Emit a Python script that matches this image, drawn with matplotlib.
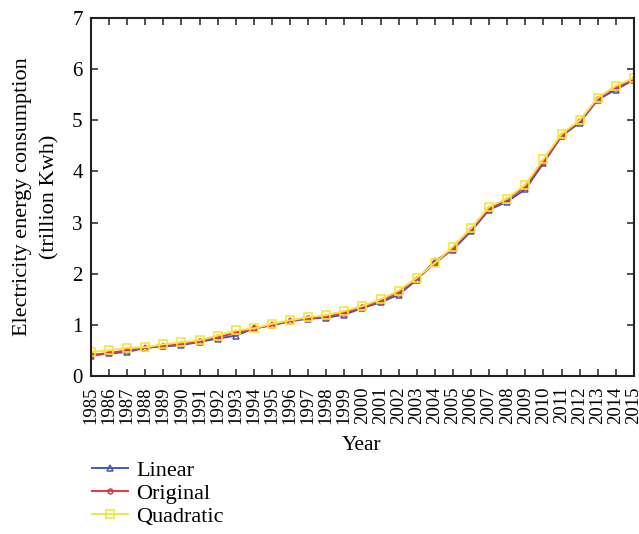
import matplotlib
matplotlib.use("Agg")
import matplotlib.pyplot as plt

years = list(range(1985, 2016))
original = [0.41, 0.45, 0.50, 0.55, 0.59, 0.62, 0.68, 0.76, 0.84, 0.93, 1.00, 1.08, 1.13, 1.16, 1.23,
            1.35, 1.46, 1.63, 1.90, 2.20, 2.49, 2.86, 3.27, 3.45, 3.70, 4.19, 4.70, 4.98, 5.42, 5.64, 5.80]
linear = [0.40, 0.44, 0.47, 0.55, 0.58, 0.60, 0.67, 0.73, 0.79, 0.93, 0.99, 1.07, 1.12, 1.14, 1.20,
          1.33, 1.44, 1.59, 1.88, 2.25, 2.47, 2.83, 3.25, 3.41, 3.65, 4.16, 4.69, 4.95, 5.40, 5.60, 5.79]
quadratic = [0.47, 0.50, 0.55, 0.56, 0.62, 0.66, 0.70, 0.79, 0.89, 0.93, 1.02, 1.09, 1.15, 1.19, 1.27,
             1.37, 1.50, 1.67, 1.92, 2.21, 2.53, 2.89, 3.31, 3.47, 3.74, 4.24, 4.73, 5.00, 5.44, 5.67, 5.83]

plt.rcParams['font.family'] = ['Liberation Serif', 'DejaVu Serif']

fig = plt.figure(figsize=(6.39, 5.34), dpi=100)
ax = fig.add_axes([0.1424, 0.2959, 0.8496, 0.6704])

ax.plot(years, linear, color='#4257b8', lw=1.4, marker='^', ms=4.5, mfc='none', mew=1.1, label='Linear')
ax.plot(years, original, color='#e8363c', lw=1.4, marker='o', ms=3.5, mfc='none', mew=1.1, label='Original')
ax.plot(years, quadratic, color='#f3e53e', lw=1.4, marker='s', ms=6, mfc='none', mew=1.2, label='Quadratic')

ax.set_xlim(1985, 2015)
ax.set_ylim(0, 7)
ax.set_xticks(years)
ax.set_xticklabels([str(y) for y in years], rotation=90, fontsize=13.5)
ax.set_yticks(range(0, 8))
ax.tick_params(axis='y', labelsize=15, pad=6)
ax.tick_params(axis='x', pad=7.5)
ax.tick_params(direction='in', top=True, right=True, length=5, width=1.2, color='#333333')
for s in ax.spines.values():
    s.set_linewidth(1.5)
    s.set_color('#222222')

fig.text(362 / 639, 1 - 445 / 534, 'Year', fontsize=15.5, ha='center', va='center')
fig.text(36 / 639, 1 - 197 / 534, 'Electricity energy consumption\n(trillion Kwh)', fontsize=16,
         rotation=90, ha='center', va='center', multialignment='center', linespacing=1.6)

leg = fig.legend(loc='upper left', bbox_to_anchor=(92 / 639, 1 - 460 / 534), frameon=False, fontsize=16,
                 handlelength=1.6, handletextpad=0.4, labelspacing=0.12, borderpad=0, borderaxespad=0)

fig.savefig('out.png', dpi=100)
